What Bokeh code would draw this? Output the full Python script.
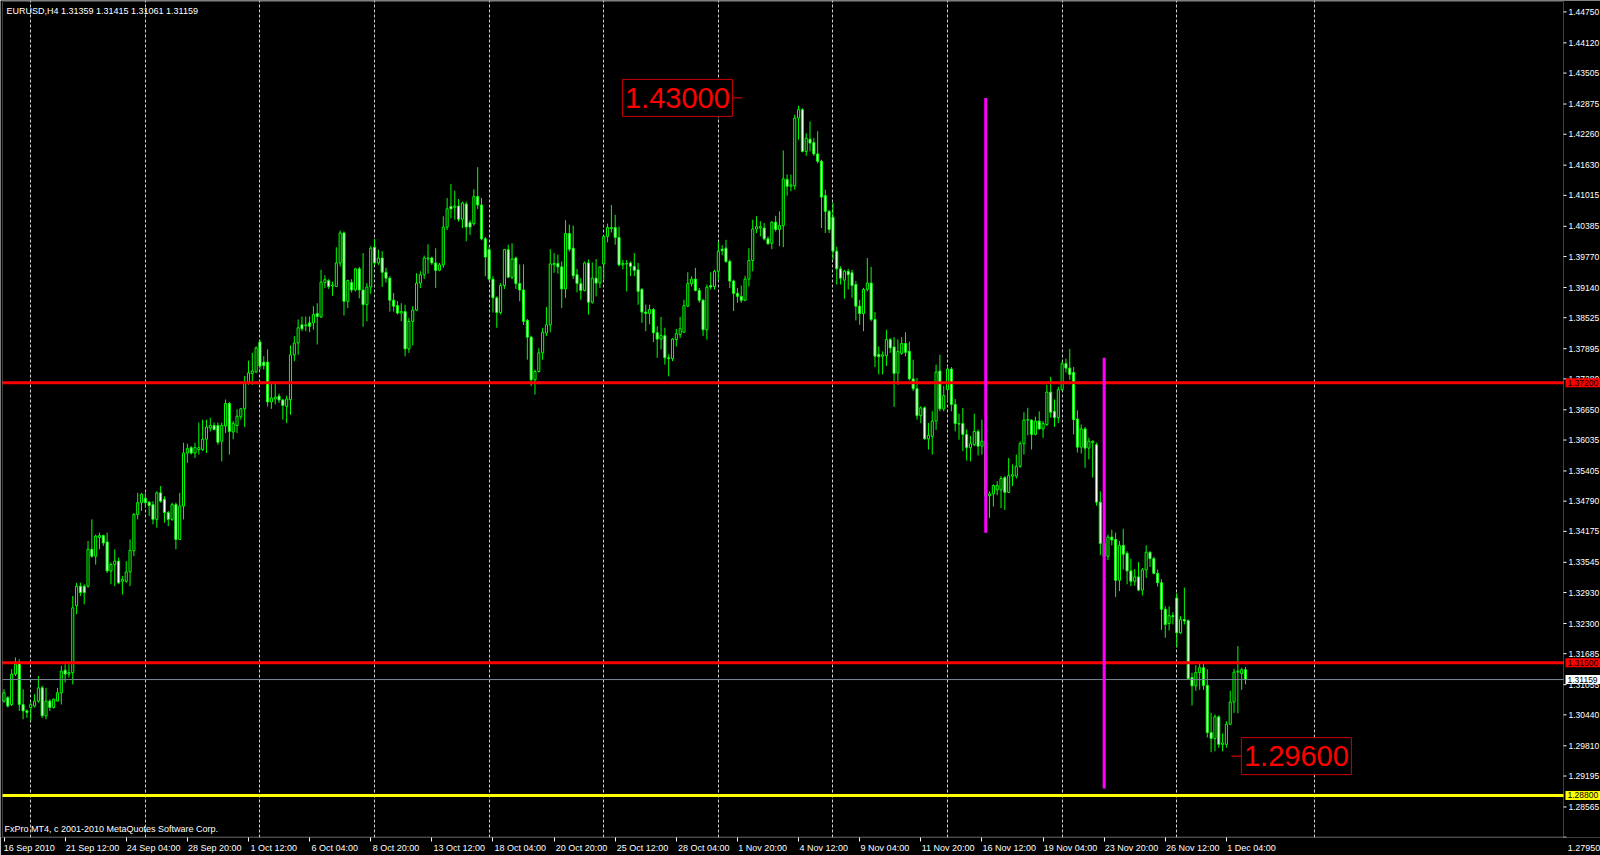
from bokeh.plotting import figure
from bokeh.models import (ColumnDataSource, Range1d, LinearAxis, FixedTicker,
                          CustomJSTickFormatter, Label, Grid, BoxAnnotation)
from bokeh.core.properties import value
from bokeh.embed import file_html
from bokeh.resources import INLINE

# ---------------- data (EURUSD H4) ----------------
opens = [
1.3072,1.3079,1.3065,1.3127,1.3150,1.3065,1.3052,1.3059,1.3062,1.3072,
1.3099,1.3042,1.3072,1.3059,1.3072,1.3089,1.3135,1.3127,1.3130,1.3266,
1.3306,1.3306,1.3306,1.3381,1.3367,1.3405,1.3409,1.3396,1.3337,1.3350,
1.3357,1.3316,1.3316,1.3335,1.3378,1.3452,1.3476,1.3485,1.3477,1.3472,
1.3442,1.3496,1.3483,1.3456,1.3442,1.3472,1.3401,1.3469,1.3577,1.3588,
1.3577,1.3584,1.3584,1.3605,1.3628,1.3633,1.3633,1.3601,1.3632,1.3678,
1.3620,1.3633,1.3651,1.3667,1.3720,1.3739,1.3742,1.3803,1.3762,1.3762,
1.3681,1.3687,1.3693,1.3685,1.3672,1.3686,1.3777,1.3801,1.3838,1.3836,
1.3842,1.3842,1.3861,1.3854,1.3924,1.3928,1.3917,1.3916,1.3964,1.4025,
1.3886,1.3924,1.3909,1.3952,1.3909,1.3879,1.3915,1.3996,1.3964,1.3974,
1.3945,1.3933,1.3888,1.3877,1.3862,1.3865,1.3789,1.3845,1.3868,1.3923,
1.3940,1.3972,1.3974,1.3964,1.3949,1.3960,1.4037,1.4079,1.4077,1.4080,
1.4053,1.4084,1.4046,1.4044,1.4099,1.4082,1.4013,1.3991,1.3931,1.3893,
1.3863,1.3918,1.3991,1.3935,1.3974,1.3922,1.3909,1.3847,1.3813,1.3726,
1.3743,1.3781,1.3821,1.3838,1.3960,1.3963,1.3956,1.3911,1.4024,1.3994,
1.3940,1.3922,1.3908,1.3964,1.3884,1.3933,1.3923,1.3962,1.4018,1.4034,
1.4036,1.4016,1.3960,1.3962,1.3964,1.3957,1.3950,1.3910,1.3864,1.3861,
1.3869,1.3822,1.3809,1.3816,1.3771,1.3769,1.3808,1.3818,1.3823,1.3876,
1.3922,1.3931,1.3908,1.3888,1.3828,1.3918,1.3916,1.3947,1.3992,1.3994,
1.3967,1.3927,1.3902,1.3896,1.3888,1.3931,1.3969,1.4033,1.4035,1.4035,
1.4013,1.4004,1.4047,1.4032,1.4040,1.4134,1.4120,1.4121,1.4259,1.4276,
1.4191,1.4216,1.4209,1.4186,1.4171,1.4101,1.4069,1.4057,1.3988,1.3952,
1.3929,1.3947,1.3944,1.3920,1.3876,1.3861,1.3910,1.3923,1.3849,1.3778,
1.3774,1.3775,1.3808,1.3793,1.3740,1.3780,1.3800,1.3784,1.3728,1.3708,
1.3653,1.3669,1.3606,1.3611,1.3642,1.3744,1.3667,1.3706,1.3748,1.3676,
1.3636,1.3637,1.3615,1.3588,1.3594,1.3621,1.3591,1.3601,1.3490,1.3494,
1.3502,1.3502,1.3527,1.3497,1.3530,1.3530,1.3550,1.3596,1.3644,1.3644,
1.3615,1.3642,1.3626,1.3635,1.3701,1.3662,1.3649,1.3706,1.3759,1.3750,
1.3741,1.3646,1.3589,1.3626,1.3587,1.3598,1.3594,1.3477,1.3393,1.3367,
1.3406,1.3401,1.3318,1.3389,1.3373,1.3337,1.3316,1.3325,1.3298,1.3339,
1.3375,1.3362,1.3332,1.3313,1.3259,1.3230,1.3246,1.3282,1.3211,1.3238,
1.3236,1.3120,1.3103,1.3130,1.3140,1.3104,1.3008,1.2996,1.3040,1.2984,
1.2984,1.3025,1.3070,1.3131,1.3128,1.31359]
highs = [
1.3096,1.3082,1.3137,1.3161,1.3157,1.3096,1.3055,1.3069,1.3086,1.3123,
1.3103,1.3099,1.3076,1.3077,1.3099,1.3144,1.3147,1.3147,1.3286,1.3313,
1.3313,1.3310,1.3398,1.3442,1.3411,1.3415,1.3411,1.3415,1.3354,1.3381,
1.3364,1.3327,1.3357,1.3401,1.3455,1.3496,1.3496,1.3496,1.3479,1.3479,
1.3499,1.3510,1.3489,1.3459,1.3476,1.3476,1.3496,1.3598,1.3596,1.3591,
1.3598,1.3639,1.3645,1.3645,1.3649,1.3639,1.3639,1.3639,1.3686,1.3681,
1.3642,1.3666,1.3669,1.3734,1.3765,1.3781,1.3794,1.3807,1.3774,1.3788,
1.3720,1.3720,1.3698,1.3687,1.3694,1.3796,1.3815,1.3849,1.3855,1.3855,
1.3855,1.3876,1.3882,1.3950,1.3939,1.3931,1.3926,1.3996,1.4030,1.4028,
1.3930,1.3931,1.3954,1.3956,1.3984,1.3923,1.3998,1.4013,1.3991,1.3988,
1.3954,1.3937,1.3903,1.3886,1.3882,1.3879,1.3852,1.3876,1.3943,1.3947,
1.3979,1.4002,1.3977,1.3994,1.3964,1.4059,1.4096,1.4125,1.4111,1.4094,
1.4089,1.4089,1.4051,1.4114,1.4159,1.4096,1.4017,1.3998,1.3937,1.3896,
1.3923,1.3992,1.4001,1.4004,1.3977,1.3961,1.3961,1.3850,1.3816,1.3747,
1.3791,1.3832,1.3874,1.3992,1.3984,1.3981,1.3967,1.4051,1.4042,1.4040,
1.3952,1.3933,1.3967,1.3971,1.3965,1.3972,1.3957,1.4021,1.4044,1.4082,
1.4062,1.4038,1.3970,1.3970,1.3967,1.3984,1.3964,1.3913,1.3879,1.3879,
1.3872,1.3835,1.3854,1.3832,1.3778,1.3811,1.3830,1.3854,1.3889,1.3945,
1.3937,1.3954,1.3913,1.3891,1.3920,1.3945,1.3950,1.4008,1.4000,1.4011,
1.3971,1.3930,1.3913,1.3918,1.3938,1.3994,1.4052,1.4059,1.4049,1.4045,
1.4018,1.4049,1.4060,1.4069,1.4193,1.4144,1.4144,1.4266,1.4284,1.4279,
1.4228,1.4252,1.4218,1.4232,1.4174,1.4113,1.4072,1.4087,1.3997,1.3957,
1.3950,1.3952,1.3950,1.3927,1.3889,1.3913,1.3974,1.3956,1.3864,1.3794,
1.3784,1.3828,1.3811,1.3813,1.3808,1.3813,1.3823,1.3804,1.3767,1.3730,
1.3672,1.3672,1.3638,1.3662,1.3757,1.3777,1.3714,1.3754,1.3752,1.3687,
1.3657,1.3669,1.3625,1.3612,1.3657,1.3625,1.3645,1.3606,1.3499,1.3513,
1.3520,1.3530,1.3530,1.3567,1.3554,1.3574,1.3601,1.3660,1.3669,1.3646,
1.3651,1.3662,1.3642,1.3716,1.3732,1.3686,1.3712,1.3764,1.3769,1.3789,
1.3752,1.3664,1.3635,1.3630,1.3608,1.3603,1.3598,1.3499,1.3410,1.3411,
1.3421,1.3415,1.3398,1.3423,1.3377,1.3362,1.3341,1.3355,1.3343,1.3389,
1.3377,1.3366,1.3340,1.3320,1.3265,1.3265,1.3253,1.3292,1.3245,1.3303,
1.3238,1.3130,1.3145,1.3149,1.3149,1.3137,1.3048,1.3045,1.3043,1.3006,
1.3031,1.3093,1.3138,1.3184,1.3140,1.31415]
lows = [
1.3069,1.3059,1.3062,1.3123,1.3052,1.3035,1.3038,1.3032,1.3059,1.3069,
1.3038,1.3035,1.3052,1.3057,1.3072,1.3065,1.3110,1.3120,1.3106,1.3249,
1.3286,1.3269,1.3303,1.3364,1.3350,1.3381,1.3388,1.3333,1.3310,1.3306,
1.3310,1.3289,1.3313,1.3306,1.3367,1.3442,1.3459,1.3466,1.3449,1.3432,
1.3425,1.3476,1.3435,1.3428,1.3439,1.3381,1.3401,1.3442,1.3557,1.3574,
1.3567,1.3574,1.3581,1.3577,1.3621,1.3623,1.3594,1.3560,1.3618,1.3574,
1.3605,1.3618,1.3645,1.3630,1.3716,1.3716,1.3740,1.3747,1.3747,1.3672,
1.3667,1.3676,1.3679,1.3645,1.3638,1.3655,1.3764,1.3777,1.3825,1.3825,
1.3823,1.3828,1.3798,1.3852,1.3913,1.3911,1.3897,1.3915,1.3957,1.3857,
1.3872,1.3904,1.3906,1.3892,1.3834,1.3845,1.3901,1.3960,1.3960,1.3915,
1.3924,1.3865,1.3865,1.3859,1.3845,1.3774,1.3781,1.3796,1.3866,1.3913,
1.3931,1.3942,1.3960,1.3913,1.3947,1.3954,1.4031,1.4055,1.4052,1.4048,
1.4035,1.4008,1.4021,1.4040,1.4074,1.4010,1.3937,1.3928,1.3863,1.3832,
1.3859,1.3911,1.3933,1.3931,1.3911,1.3886,1.3838,1.3767,1.3713,1.3696,
1.3741,1.3767,1.3815,1.3823,1.3944,1.3942,1.3872,1.3893,1.3987,1.3931,
1.3904,1.3889,1.3906,1.3859,1.3881,1.3896,1.3913,1.3930,1.4006,1.4026,
1.4001,1.3957,1.3951,1.3906,1.3937,1.3937,1.3879,1.3842,1.3825,1.3839,
1.3803,1.3771,1.3788,1.3757,1.3733,1.3764,1.3794,1.3811,1.3822,1.3874,
1.3916,1.3906,1.3883,1.3815,1.3808,1.3910,1.3910,1.3930,1.3980,1.3964,
1.3913,1.3866,1.3883,1.3883,1.3886,1.3916,1.3947,1.4025,1.4018,1.4010,
1.4001,1.3992,1.4028,1.3998,1.3996,1.4101,1.4110,1.4113,1.4215,1.4189,
1.4182,1.4191,1.4182,1.4167,1.4035,1.4025,1.4025,1.3971,1.3920,1.3920,
1.3891,1.3910,1.3893,1.3847,1.3838,1.3825,1.3906,1.3845,1.3752,1.3737,
1.3737,1.3754,1.3781,1.3671,1.3716,1.3777,1.3774,1.3725,1.3703,1.3645,
1.3638,1.3604,1.3584,1.3574,1.3624,1.3662,1.3662,1.3682,1.3662,1.3621,
1.3604,1.3581,1.3562,1.3560,1.3591,1.3572,1.3574,1.3482,1.3445,1.3468,
1.3491,1.3465,1.3461,1.3496,1.3510,1.3525,1.3547,1.3574,1.3613,1.3584,
1.3613,1.3625,1.3608,1.3632,1.3649,1.3630,1.3638,1.3704,1.3741,1.3726,
1.3615,1.3578,1.3576,1.3547,1.3564,1.3527,1.3470,1.3369,1.3360,1.3359,
1.3389,1.3284,1.3296,1.3340,1.3310,1.3306,1.3307,1.3296,1.3287,1.3323,
1.3345,1.3330,1.3305,1.3217,1.3201,1.3216,1.3228,1.3182,1.3209,1.3228,
1.3115,1.3063,1.3093,1.3095,1.3095,1.2998,1.2968,1.2970,1.2977,1.2970,
1.2977,1.3023,1.3048,1.3047,1.3095,1.31061]
closes = [
1.3089,1.3062,1.3127,1.3147,1.3065,1.3052,1.3049,1.3065,1.3072,1.3099,
1.3042,1.3072,1.3059,1.3076,1.3089,1.3133,1.3127,1.3130,1.3262,1.3306,
1.3293,1.3293,1.3381,1.3367,1.3408,1.3409,1.3394,1.3337,1.3350,1.3357,
1.3313,1.3320,1.3335,1.3379,1.3452,1.3476,1.3493,1.3476,1.3470,1.3442,
1.3496,1.3479,1.3456,1.3442,1.3472,1.3401,1.3469,1.3577,1.3586,1.3577,
1.3588,1.3588,1.3605,1.3630,1.3633,1.3625,1.3599,1.3633,1.3678,1.3621,
1.3637,1.3652,1.3667,1.3720,1.3740,1.3744,1.3791,1.3754,1.3755,1.3681,
1.3689,1.3691,1.3685,1.3674,1.3687,1.3777,1.3801,1.3832,1.3830,1.3838,
1.3835,1.3859,1.3855,1.3925,1.3930,1.3916,1.3919,1.3964,1.4025,1.3886,
1.3928,1.3909,1.3952,1.3909,1.3879,1.3915,1.3994,1.3964,1.3974,1.3945,
1.3933,1.3888,1.3876,1.3862,1.3865,1.3789,1.3845,1.3868,1.3923,1.3940,
1.3974,1.3974,1.3964,1.3949,1.3960,1.4037,1.4074,1.4074,1.4080,1.4053,
1.4086,1.4037,1.4037,1.4099,1.4082,1.4013,1.3976,1.3931,1.3893,1.3863,
1.3918,1.3991,1.3935,1.3972,1.3922,1.3909,1.3845,1.3813,1.3726,1.3743,
1.3781,1.3823,1.3838,1.3962,1.3963,1.3956,1.3911,1.4024,1.3992,1.3938,
1.3922,1.3908,1.3964,1.3884,1.3933,1.3923,1.3956,1.4018,1.4036,1.4036,
1.4016,1.3960,1.3963,1.3963,1.3957,1.3949,1.3906,1.3864,1.3861,1.3869,
1.3822,1.3809,1.3816,1.3771,1.3769,1.3809,1.3820,1.3830,1.3877,1.3922,
1.3931,1.3908,1.3888,1.3828,1.3915,1.3915,1.3947,1.3988,1.3989,1.3967,
1.3927,1.3902,1.3896,1.3888,1.3931,1.3969,1.4033,1.4038,1.4038,1.4013,
1.4003,1.4047,1.4032,1.4040,1.4135,1.4120,1.4123,1.4259,1.4276,1.4191,
1.4218,1.4208,1.4186,1.4171,1.4098,1.4069,1.4032,1.3988,1.3952,1.3933,
1.3947,1.3940,1.3918,1.3876,1.3861,1.3910,1.3923,1.3849,1.3774,1.3773,
1.3777,1.3808,1.3791,1.3739,1.3784,1.3800,1.3782,1.3728,1.3708,1.3653,
1.3669,1.3606,1.3613,1.3642,1.3742,1.3667,1.3694,1.3748,1.3676,1.3637,
1.3637,1.3615,1.3588,1.3596,1.3621,1.3591,1.3601,1.3490,1.3494,1.3511,
1.3511,1.3525,1.3497,1.3531,1.3533,1.3550,1.3596,1.3644,1.3645,1.3615,
1.3642,1.3626,1.3637,1.3701,1.3660,1.3649,1.3706,1.3759,1.3750,1.3737,
1.3645,1.3589,1.3626,1.3587,1.3601,1.3601,1.3477,1.3393,1.3367,1.3406,
1.3400,1.3318,1.3389,1.3371,1.3337,1.3316,1.3325,1.3298,1.3339,1.3375,
1.3362,1.3332,1.3313,1.3259,1.3228,1.3246,1.3244,1.3211,1.3238,1.3235,
1.3118,1.3103,1.3130,1.3140,1.3104,1.3008,1.2996,1.3040,1.2984,1.2987,
1.3025,1.3070,1.3131,1.3133,1.3136,1.31159]
bar_idx = list(range(len(closes)))

price_ticks = [1.44750, 1.44120, 1.43505, 1.42875, 1.42260, 1.41630, 1.41015,
               1.40385, 1.39770, 1.39140, 1.38525, 1.37895, 1.37280, 1.36650,
               1.36035, 1.35405, 1.34790, 1.34175, 1.33545, 1.32930, 1.32300,
               1.31685, 1.31055, 1.30440, 1.29810, 1.29195, 1.28565, 1.27950]
time_label_idx = [0, 16, 32, 48, 64, 80, 96, 112, 128, 144, 160, 176, 192,
                  208, 224, 240, 256, 272, 288, 304, 320]
time_labels = ["16 Sep 2010", "21 Sep 12:00", "24 Sep 04:00", "28 Sep 20:00",
               "1 Oct 12:00", "6 Oct 04:00", "8 Oct 20:00", "13 Oct 12:00",
               "18 Oct 04:00", "20 Oct 20:00", "25 Oct 12:00", "28 Oct 04:00",
               "1 Nov 20:00", "4 Nov 12:00", "9 Nov 04:00", "11 Nov 20:00",
               "16 Nov 12:00", "19 Nov 04:00", "23 Nov 20:00", "26 Nov 12:00",
               "1 Dec 04:00"]
week_grid_idx = [7, 37, 67, 97, 127, 157, 187, 217, 247, 277, 307, 343]
level_prices = [1.37200, 1.31500, 1.28800]
bid_price = 1.31159
trend_idx = [257, 288]
trend_top = [1.4300, 1.3771]
trend_bottom = [1.3415, 1.2894]
note_idx = [193.3, 321.3]
note_price = [1.43000, 1.29600]
symbol = "EURUSD,H4"
copyright_text = "FxPro MT4, c 2001-2010 MetaQuotes Software Corp."

# ---------------- layout / style constants ----------------
W, H = 1600, 855
AXIS_B = 18                 # bottom panel for the time scale
BAR_PX = 3.82               # pixels per bar
BAR0_PX = 3.5               # pixel of bar 0 from canvas left
CHART_L_PX, CHART_R_PX = 2, 1563   # chart box (the price scale lies right of it)
CHART_T_PX, CHART_B_PX = 1, 836.5
PX_PER_PRICE = 4912.3
REF_PRICE, REF_PX = 1.372, 382.3
FONT = "Liberation Sans"
SCALE_FS = "8.5px"
LIME = "#00ff00"
WHITE = "#ffffff"
NOTE_GAP, NOTE_W, NOTE_H = 10, 110, 37

frame_h = H - AXIS_B
def xd(px):            # canvas pixel -> bar coordinate
    return (px - BAR0_PX) / BAR_PX
def yd(py):            # canvas pixel -> price
    return REF_PRICE + (REF_PX - py) / PX_PER_PRICE
def ypx(price):        # price -> canvas pixel
    return REF_PX - (price - REF_PRICE) * PX_PER_PRICE

x_start, x_end = xd(0), xd(W)
y_end, y_start = yd(0), yd(frame_h)
chart_l, chart_r = xd(CHART_L_PX), xd(CHART_R_PX)

p = figure(width=W, height=H, output_backend="svg", toolbar_location=None,
           x_axis_location=None, y_axis_location=None,
           x_range=Range1d(x_start, x_end), y_range=Range1d(y_start, y_end),
           background_fill_color="#000000", border_fill_color="#000000",
           min_border_left=0, min_border_top=0, min_border_right=0,
           min_border_bottom=AXIS_B)
for g in list(p.grid):
    g.visible = False
p.outline_line_color = None

# weekly dashed grid
grid = Grid(dimension=0, ticker=FixedTicker(ticks=week_grid_idx, minor_ticks=[]),
            grid_line_color="#d0d0d0", grid_line_dash="3 2", grid_line_width=1)
p.add_layout(grid)

# chart box
p.add_layout(BoxAnnotation(left=chart_l, right=chart_r, bottom=yd(CHART_B_PX),
                           top=yd(CHART_T_PX), fill_color=None,
                           line_color="#d8d8d8", line_width=1))

# price-scale labels: those too close to the bottom go to the time-scale row (as in MT4)
in_chart = [v for v in price_ticks if ypx(v) + 5 <= frame_h]
bottom_row = [v for v in price_ticks if ypx(v) + 5 > frame_h]

# bottom time axis: tick marks ...
xtick = LinearAxis(ticker=FixedTicker(ticks=time_label_idx, minor_ticks=[]),
                   formatter=CustomJSTickFormatter(code="return ''"))
xtick.axis_line_color = None
xtick.major_tick_out = 4
xtick.major_tick_in = 0
xtick.major_tick_line_color = WHITE
xtick.minor_tick_line_color = None
xtick.major_label_standoff = 0
xtick.major_label_text_font_size = "1px"
p.add_layout(xtick, "below")

# ... and labels that start right of each tick (as in MetaTrader)
CHAR_PX = 4.4
label_pos = [round(i + (len(t) * CHAR_PX / 2 + 1) / BAR_PX, 3)
             for i, t in zip(time_label_idx, time_labels)]
label_txt = list(time_labels)
for v in bottom_row:
    label_pos.append(round(xd(CHART_R_PX + 20.5), 3))
    label_txt.append("%.5f" % v)
xlab = LinearAxis(ticker=FixedTicker(ticks=label_pos, minor_ticks=[]),
                  formatter=CustomJSTickFormatter(
                      args=dict(pos=label_pos, txt=label_txt),
                      code="""
                      for (let k = 0; k < pos.length; k++) {
                        if (Math.abs(pos[k] - tick) < 1e-6) { return txt[k]; }
                      }
                      return '';
                      """))
xlab.axis_line_color = None
xlab.major_tick_out = 0
xlab.major_tick_in = 0
xlab.major_tick_line_color = None
xlab.minor_tick_line_color = None
xlab.major_label_standoff = 1
xlab.major_label_text_font = FONT
xlab.major_label_text_font_size = "9px"
xlab.major_label_text_color = WHITE
p.add_layout(xlab, "below")

# price scale to the right of the chart box
p.segment(x0=[chart_r] * len(price_ticks), x1=[chart_r + 3 / BAR_PX] * len(price_ticks),
          y0=price_ticks, y1=price_ticks, line_color=WHITE, line_width=1)
p.text(x=[chart_r + 5 / BAR_PX] * len(in_chart), y=in_chart,
       text=["%.5f" % v for v in in_chart], text_font=value(FONT),
       text_font_size=SCALE_FS, text_color=WHITE, text_align="left",
       text_baseline="middle")

# candles
bull = [c >= o for o, c in zip(opens, closes)]
def candle_src(flag):
    sel = [k for k in bar_idx if bull[k] == flag]
    return ColumnDataSource(dict(
        x=[bar_idx[k] for k in sel],
        hi=[highs[k] for k in sel], lo=[lows[k] for k in sel],
        top=[max(opens[k], closes[k]) for k in sel],
        bot=[min(opens[k], closes[k]) for k in sel]))

src_bull, src_bear = candle_src(True), candle_src(False)
for s in (src_bull, src_bear):
    p.segment(x0="x", x1="x", y0="lo", y1="hi", source=s, line_color=LIME, line_width=1)
p.vbar(x="x", width=0.55, top="top", bottom="bot", source=src_bull,
       fill_color="#000000", line_color=LIME, line_width=1)
p.vbar(x="x", width=0.55, top="top", bottom="bot", source=src_bear,
       fill_color=WHITE, line_color=LIME, line_width=1)

# horizontal levels (inside the chart box only)
level_colors = ["#ff0000", "#ff0000", "#ffff00"]
p.segment(x0=[chart_l], x1=[chart_r], y0=[bid_price], y1=[bid_price],
          line_color="#778899", line_width=1)
p.segment(x0=[chart_l] * 3, x1=[chart_r] * 3, y0=level_prices, y1=level_prices,
          line_color=level_colors, line_width=3)

# magenta trend lines
p.segment(x0=trend_idx, x1=trend_idx, y0=trend_top, y1=trend_bottom,
          line_color="#ff00ff", line_width=3)

# price tags on the price scale
tag_prices = [bid_price] + level_prices
tag_colors = [WHITE] + level_colors
p.rect(x=[chart_r + 20 / BAR_PX] * 4, y=tag_prices, width=36, width_units="screen",
       height=9, height_units="screen", fill_color=tag_colors, line_color=None)
p.text(x=[chart_r + 4 / BAR_PX] * 4, y=tag_prices,
       text=["%.5f" % v for v in tag_prices], text_font=value(FONT),
       text_font_size=SCALE_FS, text_color="#000000", text_align="left",
       text_baseline="middle")

# price label objects (1.43000 / 1.29600): pointer, box and text
note_dir = [-1, 1]
box_x = [xi + d * (NOTE_GAP + NOTE_W / 2) / BAR_PX for xi, d in zip(note_idx, note_dir)]
p.segment(x0=note_idx, x1=[xi + d * NOTE_GAP / BAR_PX for xi, d in zip(note_idx, note_dir)],
          y0=note_price, y1=note_price, line_color="#ff0000", line_width=1)
p.rect(x=box_x, y=note_price, width=NOTE_W, height=NOTE_H, width_units="screen",
       height_units="screen", fill_color="#000000", line_color="#cc0000", line_width=1)
p.text(x=box_x, y=note_price, text=["%.5f" % v for v in note_price],
       text_font=value(FONT), text_font_size="29px", text_color="#ff0000",
       text_align="center", text_baseline="middle")

# header and footer texts
header = "%s  %.5f %.5f %.5f %.5f" % (symbol, opens[-1], highs[-1], lows[-1], closes[-1])
p.add_layout(Label(x=x_start, y=y_end, x_offset=6, y_offset=-5, text=header,
                   text_font=FONT, text_font_size="9px", text_color=WHITE,
                   text_align="left", text_baseline="top"))
p.add_layout(Label(x=x_start, y=yd(CHART_B_PX), x_offset=4, y_offset=3, text=copyright_text,
                   text_font=FONT, text_font_size="9px", text_color=WHITE,
                   text_align="left", text_baseline="bottom"))

open("out.html", "w").write(file_html(p, INLINE))
